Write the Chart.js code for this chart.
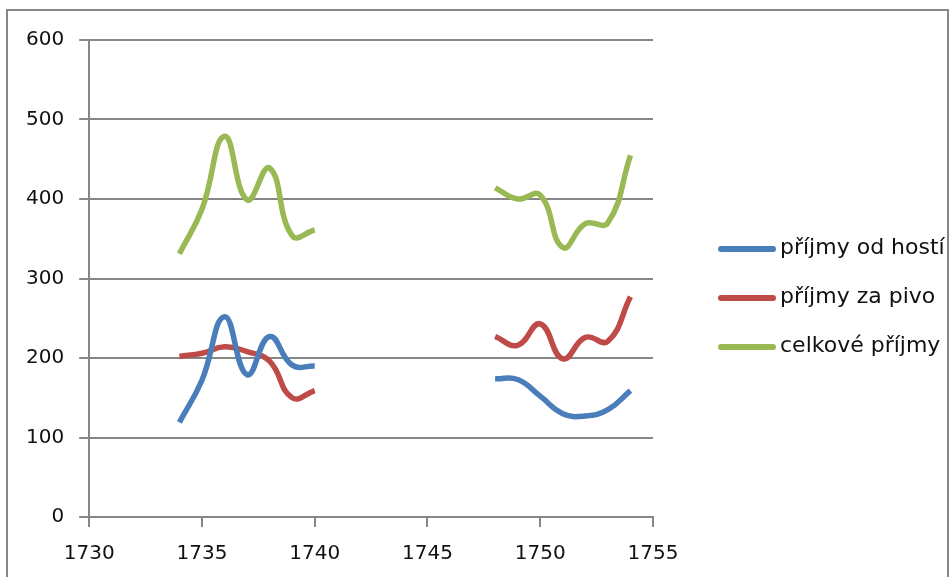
<!DOCTYPE html>
<html>
<head>
<meta charset="utf-8">
<script src="https://cdn.jsdelivr.net/npm/chart.js@4"></script>
<style>
  html, body { margin: 0; padding: 0; background: #fff; }
  #wrap { width: 952px; height: 577px; position: relative; }
</style>
</head>
<body>
<div id="wrap"><canvas id="chart"></canvas></div>
<script>
const years = [1734, 1735, 1736, 1737, 1738, 1739, 1740, 1741, 1742, 1743, 1744, 1745, 1746, 1747,
               1748, 1749, 1750, 1751, 1752, 1753, 1754];
const guests = [119, 172, 252, 179, 227, 191, 190, null, null, null, null, null, null, null,
                174, 173, 152, 130, 127, 135, 159];
const beer = [202, 206, 214, 208, 196, 150, 159, null, null, null, null, null, null, null,
              227, 216, 243, 199, 226, 221, 277];
const total = [331, 387, 479, 399, 439, 354, 361, null, null, null, null, null, null, null,
               414, 400, 405, 339, 369, 370, 455];
const seriesNames = ['příjmy od hostí', 'příjmy za pivo', 'celkové příjmy'];
const seriesColors = ['#4A7EBB', '#BE4B48', '#98B954'];

const gridColor = '#868686';
const fontFamily = '"DejaVu Sans", sans-serif';

let toPoints = function(values) {
    return years.map((yr, i) => ({ x: yr, y: values[i] }));
};

// frame round the whole picture
const framePlugin = {
    id: 'frame',
    afterDraw(chart) {
        const ctx = chart.ctx;
        ctx.save();
        ctx.strokeStyle = gridColor;
        ctx.lineWidth = 2;
        ctx.strokeRect(7, 10, 941, 570);
        ctx.restore();
    }
};

// legend on the right, drawn by hand
const legendPlugin = {
    id: 'sideLegend',
    afterDraw(chart) {
        const ctx = chart.ctx;
        ctx.save();
        ctx.font = '22px ' + fontFamily;
        ctx.textBaseline = 'middle';
        ctx.fillStyle = '#111';
        chart.data.datasets.forEach((ds, i) => {
            const y = 249 + i * 49;
            ctx.strokeStyle = ds.borderColor;
            ctx.lineWidth = 6;
            ctx.lineCap = 'round';
            ctx.beginPath();
            ctx.moveTo(721, y);
            ctx.lineTo(773, y);
            ctx.stroke();
            ctx.fillText(ds.label, 780, y - 1);
        });
        ctx.restore();
    }
};

new Chart(document.getElementById('chart'), {
    type: 'line',
    data: {
        datasets: [guests, beer, total].map((vals, i) => ({
            label: seriesNames[i],
            data: toPoints(vals),
            borderColor: seriesColors[i],
            backgroundColor: seriesColors[i],
            borderWidth: 5.5,
            pointRadius: 0,
            tension: 0.45,
            spanGaps: false,
            fill: false
        }))
    },
    options: {
        responsive: true,
        maintainAspectRatio: false,
        devicePixelRatio: 1,
        animation: false,
        layout: { padding: { left: 11, right: 299, top: 40, bottom: 0 } },
        plugins: {
            legend: { display: false },
            tooltip: { enabled: false }
        },
        scales: {
            x: {
                type: 'linear',
                min: 1730,
                max: 1755,
                afterFit: scale => { scale.height = 60; },
                ticks: {
                    stepSize: 5,
                    color: '#111',
                    font: { family: fontFamily, size: 20 },
                    padding: 15,
                    maxRotation: 0,
                    callback: v => String(v)
                },
                grid: { drawOnChartArea: false, drawTicks: true, tickLength: 10, color: gridColor, lineWidth: 2 },
                border: { color: gridColor, width: 2 }
            },
            y: {
                min: 0,
                max: 600,
                ticks: {
                    stepSize: 100,
                    color: '#111',
                    font: { family: fontFamily, size: 20 },
                    padding: 15
                },
                grid: { color: gridColor, lineWidth: 2, tickLength: 10 },
                border: { color: gridColor, width: 2 }
            }
        }
    },
    plugins: [framePlugin, legendPlugin]
});
</script>
</body>
</html>
